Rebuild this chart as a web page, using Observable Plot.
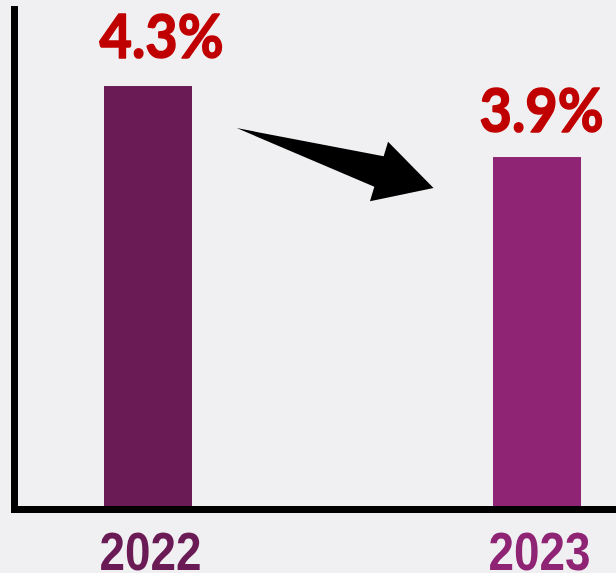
<!DOCTYPE html>
<html>
<head>
<meta charset="utf-8">
<script src="https://cdn.jsdelivr.net/npm/d3@7"></script>
<script src="https://cdn.jsdelivr.net/npm/@observablehq/plot@0.6"></script>
<style>
  html, body { margin: 0; padding: 0; background: #f0f0f2; }
  #chart { width: 616px; height: 573px; overflow: hidden; }
</style>
</head>
<body>
<div id="chart"></div>
<script>
// Data
const years = ["2022", "2023"];
const values = [4.3, 3.9];
const valueLabels = ["4.3%", "3.9%"];
const barColors = ["#6a1a55", "#8f2374"];
const yDomain = [1.917, 4.734];      // visible value range of the y axis
// Arrow annotation: position between the bar centres (fraction) and value level
const arrowT = [0.228, 0.734];
const arrowV = [4.063, 3.725];

const data = years.map((y, i) => ({year: y, value: values[i], label: valueLabels[i], color: barColors[i]}));

const arrowMark = (index, scales) => {
  const {x, y} = scales;
  const bw = typeof x.bandwidth === "function" ? x.bandwidth() : (x.bandwidth ?? 0);
  const c0 = x(years[0]) + bw / 2, c1 = x(years[1]) + bw / 2;
  const tx = c0 + (c1 - c0) * arrowT[0], ty = y(arrowV[0]);
  const px = c0 + (c1 - c0) * arrowT[1], py = y(arrowV[1]);
  const dx = px - tx, dy = py - ty, L = Math.hypot(dx, dy);
  const ux = dx / L, uy = dy / L, nx = -uy, ny = ux;
  const head = 57, shaftW = 16, headW = 31;
  const b = L - head;
  const pt = (u, n) => [tx + ux * u + nx * n, ty + uy * u + ny * n];
  const pts = [pt(0, 0), pt(b, -shaftW), pt(b, -headW), pt(L, 0), pt(b, headW), pt(b, shaftW)];
  const path = d3.create("svg:path")
    .attr("d", "M" + pts.map(p => p.join(",")).join("L") + "Z")
    .attr("fill", "#000");
  return path.node();
};

const labelFont = "Lato, 'Open Sans', sans-serif";
const yearFont = "'Liberation Sans Narrow', 'Liberation Sans', sans-serif";

const plot = Plot.plot({
  width: 616,
  height: 573,
  marginLeft: 14,
  marginRight: 0,
  marginTop: 9,
  marginBottom: 64,
  style: {background: "transparent", overflow: "visible"},
  x: {domain: years, range: [14, 670], padding: 0.774, paddingOuter: 0.2285, axis: null},
  y: {domain: yDomain, axis: null},
  color: {type: "identity"},
  marks: [
    Plot.barY(data, {x: "year", y1: yDomain[0], y2: "value", fill: "color"}),
    arrowMark,
    Plot.frame({anchor: "left", stroke: "#000", strokeWidth: 7}),
    Plot.frame({anchor: "bottom", stroke: "#000", strokeWidth: 7}),
    Plot.text(data.filter(d => d.year === years[0]), {x: "year", y: "value", text: "label", dy: -29, dx: 13, lineAnchor: "bottom", fill: "#c00000", stroke: "#c00000", strokeWidth: 1.6, fontSize: 61, fontWeight: "bold", fontFamily: labelFont}),
    Plot.text(data.filter(d => d.year === years[1]), {x: "year", y: "value", text: "label", dy: -26, dx: 4, lineAnchor: "bottom", fill: "#c00000", stroke: "#c00000", strokeWidth: 1.6, fontSize: 61, fontWeight: "bold", fontFamily: labelFont}),
    Plot.text(data, {x: "year", frameAnchor: "bottom", text: "year", dy: 60, dx: 2, lineAnchor: "bottom", fill: "color", fontSize: 53, fontWeight: "bold", fontFamily: yearFont})
  ]
});

// condense the glyphs to the narrow lettering of the reference
const groups = d3.select(plot).selectAll('g[aria-label="text"]').nodes();
d3.select(groups[0]).selectAll("text").attr("textLength", 124).attr("lengthAdjust", "spacingAndGlyphs");
d3.select(groups[1]).selectAll("text").attr("textLength", 124).attr("lengthAdjust", "spacingAndGlyphs");
d3.select(groups[2]).selectAll("text").attr("textLength", 102).attr("lengthAdjust", "spacingAndGlyphs");

document.getElementById("chart").appendChild(plot);
</script>
</body>
</html>
